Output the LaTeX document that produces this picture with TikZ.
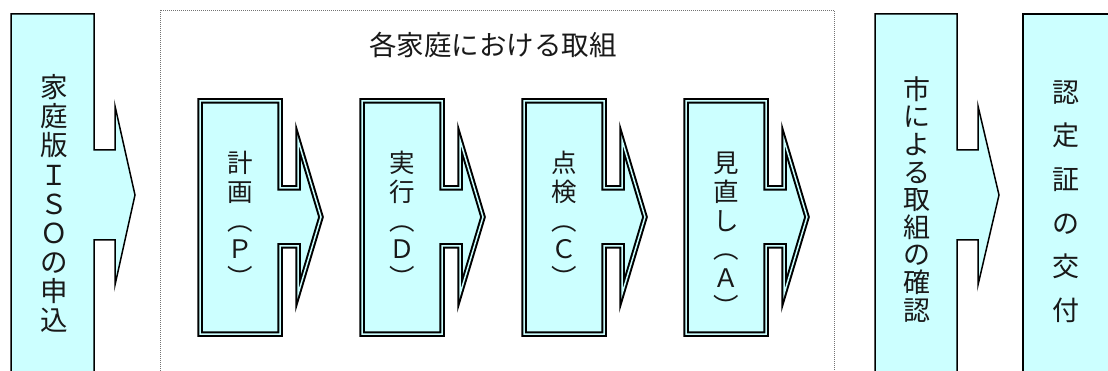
\documentclass[tikz,border=0pt]{standalone}
\usepackage{fontspec}
\newfontfamily\jp{Noto Sans CJK JP}
\definecolor{lc}{HTML}{CCFFFF}
\newcommand\jtop{\rule{0pt}{1em}}
\newcommand\jbot{\rule[-0.2em]{0pt}{0pt}}
\begin{document}
\begin{tikzpicture}[x=1pt,y=-1pt,
  outarrow/.style={draw=black, line width=1.5pt, fill=lc, line join=miter},
  inarrow/.style={draw=black, line width=2pt, double=lc, double distance=1.5pt, fill=lc, line join=miter},
  vtext/.style={align=center, inner sep=0pt, anchor=north, text=black!90},
  frame/.style={draw=black!55, line width=0.9pt, dash pattern=on 1pt off 1pt}]
\useasboundingbox (0,0) rectangle (1108,371);
\clip (0,0) rectangle (1108,371);
% group frame
\draw[frame] (160,10) rectangle (834,390);
\node[anchor=base, inner sep=0pt, text=black!90, font={\jp\fontsize{27.5}{30}\selectfont}] (title) at (493,56) {各家庭における取組};
% left arrow
\path[outarrow] (11,14) -- (94,14) -- (94,150) -- (115,150) -- (115,106) -- (135,195) -- (115,285) -- (115,240) -- (94,240) -- (94,390) -- (11,390) -- cycle;
\node[vtext, font={\jp\fontsize{27.5}{29.1}\selectfont}] (apply) at (54,70) {\jtop{}家\\庭\\版\\Ｉ\\Ｓ\\Ｏ\\の\\申\\込\jbot{}};
% right arrow
\path[outarrow] (875,14) -- (957,14) -- (957,150) -- (978,150) -- (978,106) -- (999,195) -- (978,285) -- (978,240) -- (957,240) -- (957,390) -- (875,390) -- cycle;
\node[vtext, font={\jp\fontsize{27}{27.6}\selectfont}] (check) at (917,72) {\jtop{}市\\に\\よ\\る\\取\\組\\の\\確\\認\jbot{}};
% last box
\path[outarrow] (1023,14) rectangle (1130,390);
\node[vtext, font={\jp\fontsize{27}{43.6}\selectfont}] (cert) at (1066,75) {\jtop{}認\\定\\証\\の\\交\\付\jbot{}};
% inner PDCA arrows
\foreach \x in {200,362,524,686}{
  \path[inarrow, shift={(\x,0)}] (0,101) -- (80,101) -- (80,188) -- (98,188) -- (98,140) -- (121,217) -- (98,294) -- (98,246) -- (80,246) -- (80,334) -- (0,334) -- cycle;
}
\node[vtext, font={\jp\fontsize{25.5}{28.7}\selectfont}] (plan) at (240,147) {\jtop{}計\\画\\︵\\Ｐ\\︶\jbot{}};
\node[vtext, font={\jp\fontsize{25.5}{28.7}\selectfont}] (do) at (402,147) {\jtop{}実\\行\\︵\\Ｄ\\︶\jbot{}};
\node[vtext, font={\jp\fontsize{25.5}{28.7}\selectfont}] (chk) at (564,147) {\jtop{}点\\検\\︵\\Ｃ\\︶\jbot{}};
\node[vtext, font={\jp\fontsize{25.5}{28.7}\selectfont}] (act) at (726,147) {\jtop{}見\\直\\し\\︵\\Ａ\\︶\jbot{}};
\end{tikzpicture}
\end{document}
